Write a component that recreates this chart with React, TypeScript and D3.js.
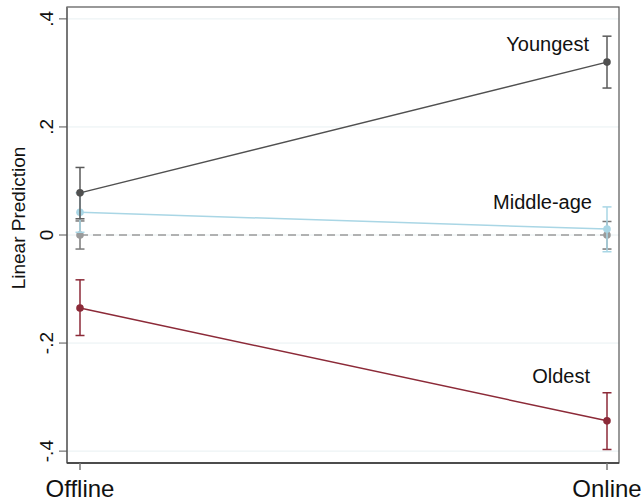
import React from "react";
import * as d3 from "d3";

const categories = ["Offline", "Online"];
const yTicks = [-0.4, -0.2, 0, 0.2, 0.4];
const yTickLabels = ["-.4", "-.2", "0", ".2", ".4"];

const refMean = [0, 0];
const refLo = [-0.026, -0.026];
const refHi = [0.026, 0.025];

const middleMean = [0.042, 0.011];
const middleLo = [0.005, -0.031];
const middleHi = [0.078, 0.052];

const youngestMean = [0.078, 0.32];
const youngestLo = [0.03, 0.272];
const youngestHi = [0.125, 0.368];

const oldestMean = [-0.135, -0.344];
const oldestLo = [-0.186, -0.292];
const oldestHi = [-0.083, -0.397];

const seriesLabels = ["Youngest", "Middle-age", "Oldest"];

const W = 644;
const H = 502;
const left = 67;
const right = 619;
const top = 7;
const bottom = 463;

export default function App() {
  const x = d3.scalePoint<string>().domain(categories).range([80, 607]);
  const y = d3.scaleLinear().domain([-0.422, 0.422]).range([bottom, top]);
  const line = d3
    .line<number>()
    .x((_, i) => x(categories[i]) as number)
    .y((d) => y(d));

  const series = [
    { mean: refMean, lo: refLo, hi: refHi, color: "#9a9a9a", dash: "8,5", ebColor: "#7a7a7a" },
    { mean: middleMean, lo: middleLo, hi: middleHi, color: "#a9d6e5", dash: undefined, ebColor: "#a9d6e5" },
    { mean: youngestMean, lo: youngestLo, hi: youngestHi, color: "#505050", dash: undefined, ebColor: "#5a5a5a" },
    { mean: oldestMean, lo: oldestLo, hi: oldestHi, color: "#8c2a38", dash: undefined, ebColor: "#8c2a38" },
  ];

  const font = "Liberation Sans, Arial, sans-serif";

  return (
    <svg width={W} height={H} style={{ position: "absolute", left: 0, top: 0 }}>
      <rect x={0} y={0} width={W} height={H} fill="#fff" />
      {yTicks.map((t) => (
        <line key={"g" + t} x1={left} x2={right} y1={y(t)} y2={y(t)} stroke="#e8f0f2" strokeWidth={1} />
      ))}
      {series.map((s, si) => (
        <g key={si}>
          {s.mean.map((m, i) => {
            const cx = x(categories[i]) as number;
            return (
              <g key={i}>
                <line x1={cx} x2={cx} y1={y(s.lo[i])} y2={y(s.hi[i])} stroke={s.ebColor} strokeWidth={1.5} />
                <line x1={cx - 4.5} x2={cx + 4.5} y1={y(s.lo[i])} y2={y(s.lo[i])} stroke={s.ebColor} strokeWidth={1.5} />
                <line x1={cx - 4.5} x2={cx + 4.5} y1={y(s.hi[i])} y2={y(s.hi[i])} stroke={s.ebColor} strokeWidth={1.5} />
              </g>
            );
          })}
          <path d={line(s.mean) || ""} fill="none" stroke={s.color} strokeWidth={1.5} strokeDasharray={s.dash} />
          {s.mean.map((m, i) => (
            <circle key={"c" + i} cx={x(categories[i]) as number} cy={y(m)} r={3.8} fill={s.color} />
          ))}
        </g>
      ))}
      <rect x={left} y={top} width={right - left} height={bottom - top} fill="none" stroke="#555" strokeWidth={1.2} />
      <line x1={left} x2={left} y1={top} y2={bottom} stroke="#777" strokeWidth={2} />
      <line x1={left} x2={right} y1={bottom} y2={bottom} stroke="#333" strokeWidth={1.5} />
      {yTicks.map((t, i) => (
        <g key={"t" + t}>
          <line x1={59} x2={left} y1={y(t)} y2={y(t)} stroke="#555" strokeWidth={1} />
          <text
            transform={`translate(53,${y(t)}) rotate(-90)`}
            textAnchor="middle"
            fontFamily={font}
            fontSize={19}
            fill="#111"
          >
            {yTickLabels[i]}
          </text>
        </g>
      ))}
      <text
        transform={`translate(25,218) rotate(-90)`}
        textAnchor="middle"
        fontFamily={font}
        fontSize={19}
        fill="#111"
      >
        Linear Prediction
      </text>
      {categories.map((c) => (
        <g key={c}>
          <line x1={x(c) as number} x2={x(c) as number} y1={bottom} y2={bottom + 7} stroke="#777" strokeWidth={1.5} />
          <text x={x(c) as number} y={497} textAnchor="middle" fontFamily={font} fontSize={24} fill="#111">
            {c}
          </text>
        </g>
      ))}
      <text x={589} y={51} textAnchor="end" fontFamily={font} fontSize={20} fill="#111">
        {seriesLabels[0]}
      </text>
      <text x={592} y={209} textAnchor="end" fontFamily={font} fontSize={20} fill="#111">
        {seriesLabels[1]}
      </text>
      <text x={590} y={383} textAnchor="end" fontFamily={font} fontSize={20} fill="#111">
        {seriesLabels[2]}
      </text>
    </svg>
  );
}
